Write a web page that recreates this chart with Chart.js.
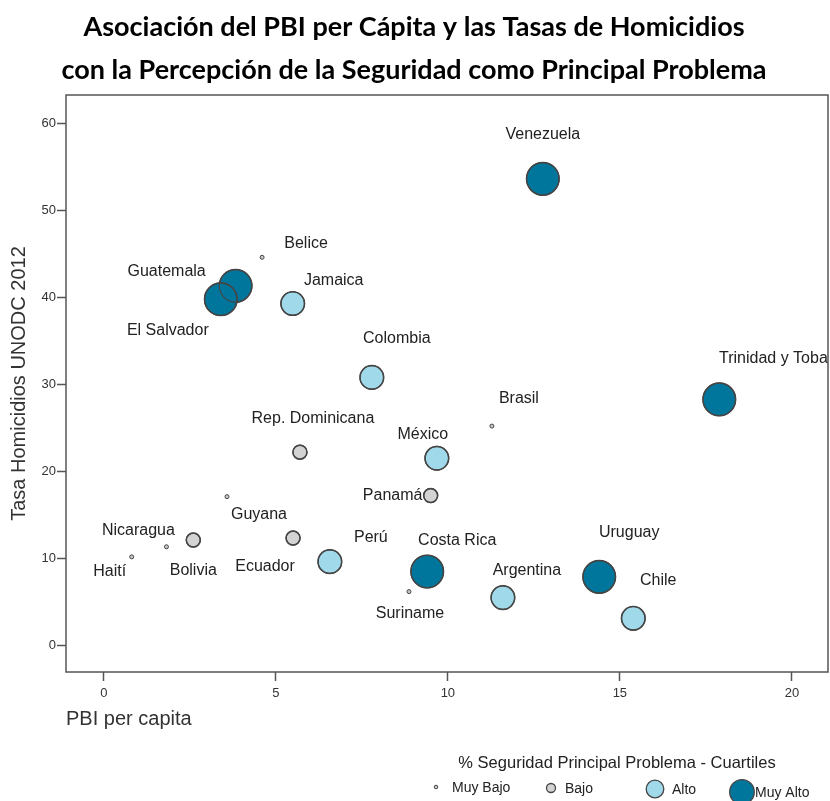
<!DOCTYPE html>
<html>
<head>
<meta charset="utf-8">
<script src="https://cdn.jsdelivr.net/npm/chart.js@4"></script>
<style>
  html, body { margin: 0; padding: 0; background: #fff; }
  canvas { display: block; }
</style>
</head>
<body>
<canvas id="chart" width="830" height="801"></canvas>
<script>
// --- DATA ---
const countries = ["Venezuela", "Belice", "Guatemala", "El Salvador", "Jamaica", "Colombia",
    "Trinidad y Tobago", "Brasil", "Rep. Dominicana", "México", "Panamá", "Guyana",
    "Nicaragua", "Bolivia", "Haití", "Ecuador", "Perú", "Costa Rica", "Suriname",
    "Argentina", "Uruguay", "Chile"];
const pbi = [12.76, 4.60, 3.83, 3.40, 5.49, 7.79, 17.89, 11.28, 5.70, 9.68, 9.50, 3.58,
    1.82, 2.60, 0.81, 5.50, 6.57, 9.40, 8.87, 11.60, 14.40, 15.39];
const homicidios = [53.65, 44.62, 41.34, 39.80, 39.30, 30.80, 28.27, 25.20, 22.20, 21.50, 17.20, 17.08,
    11.31, 12.08, 10.15, 12.31, 9.60, 8.46, 6.15, 5.46, 7.85, 3.08];
// cuartil index: 0 Muy Bajo, 1 Bajo, 2 Alto, 3 Muy Alto
const cuartil = [3, 0, 3, 3, 2, 2, 3, 0, 1, 2, 1, 0, 0, 1, 0, 1, 2, 3, 0, 2, 3, 2];
const cuartiles = ["Muy Bajo", "Bajo", "Alto", "Muy Alto"];
const xTicks = [0, 5, 10, 15, 20];
const yTicks = [0, 10, 20, 30, 40, 50, 60];

// --- STYLE ---
const fills = ["#c8c8c8", "#d3d3d3", "#a0d9ea", "#00769c"];
const radii = [2, 7, 11.8, 16.3];
const legendR = [1.8, 4.5, 8.8, 12.3];
const rim = "#454545";
const sans = '"Liberation Sans", Arial, sans-serif';

// label offsets from the bubble centre (px)
const labelOffset = {
    "Venezuela": [0, -44], "Belice": [44, -14], "Guatemala": [-69, -14],
    "El Salvador": [-53, 31], "Jamaica": [41, -23], "Colombia": [25, -39],
    "Trinidad y Tobago": [63, -41], "Brasil": [27, -27], "Rep. Dominicana": [13, -34],
    "México": [-14, -24], "Panamá": [-38, 0], "Guyana": [32, 18],
    "Nicaragua": [-28, -16], "Bolivia": [0, 31], "Haití": [-22, 15],
    "Ecuador": [-28, 29], "Perú": [41, -24], "Costa Rica": [30, -31],
    "Suriname": [1, 22], "Argentina": [24, -27], "Uruguay": [30, -44], "Chile": [25, -38]
};

const datasets = cuartiles.map((q, k) => ({
    label: q,
    data: countries.map((c, i) => ({ x: pbi[i], y: homicidios[i] })).filter((p, i) => cuartil[i] === k),
    pointRadius: radii[k],
    pointHoverRadius: radii[k],
    backgroundColor: fills[k],
    borderColor: rim,
    borderWidth: k === 0 ? 1 : 1.5
}));

// --- PLUGINS ---
const frame = {
    id: "frame",
    afterDraw(chart) {
        const { ctx, chartArea: a } = chart;
        ctx.save();
        ctx.strokeStyle = "#555";
        ctx.lineWidth = 1.5;
        ctx.strokeRect(a.left, a.top, a.right - a.left, a.bottom - a.top);
        ctx.restore();
    }
};

const countryLabels = {
    id: "countryLabels",
    afterDatasetsDraw(chart) {
        const { ctx, chartArea: a, scales: { x, y } } = chart;
        ctx.save();
        ctx.beginPath();
        ctx.rect(a.left, a.top, a.right - a.left, a.bottom - a.top);
        ctx.clip();

        // redraw rims so overlapping bubbles keep both outlines
        chart.data.datasets.forEach((ds, k) => {
            if (k === 0) return;
            chart.getDatasetMeta(k).data.forEach(el => {
                ctx.beginPath();
                ctx.arc(el.x, el.y, radii[k], 0, Math.PI * 2);
                ctx.strokeStyle = rim;
                ctx.lineWidth = 1.2;
                ctx.stroke();
            });
        });

        ctx.font = "16px " + sans;
        ctx.fillStyle = "#222";
        ctx.textAlign = "center";
        ctx.textBaseline = "middle";
        countries.forEach((c, i) => {
            const off = labelOffset[c] || [0, -20];
            ctx.fillText(c, x.getPixelForValue(pbi[i]) + off[0], y.getPixelForValue(homicidios[i]) + off[1]);
        });
        ctx.restore();
    }
};

const quartileLegend = {
    id: "quartileLegend",
    afterDraw(chart) {
        const ctx = chart.ctx;
        const symX = [436, 551, 655, 742], txtX = [452, 565, 672, 755], rowY = [787, 788, 789, 792];
        ctx.save();
        ctx.fillStyle = "#222";
        ctx.font = "16.5px " + sans;
        ctx.textAlign = "center";
        ctx.textBaseline = "middle";
        ctx.fillText("% Seguridad Principal Problema - Cuartiles", 617, 763);

        ctx.font = "14px " + sans;
        ctx.textAlign = "left";
        cuartiles.forEach((q, i) => {
            ctx.beginPath();
            ctx.arc(symX[i], rowY[i], legendR[i], 0, Math.PI * 2);
            ctx.fillStyle = fills[i];
            ctx.fill();
            ctx.lineWidth = i === 0 ? 1 : 1.3;
            ctx.strokeStyle = rim;
            ctx.stroke();
            ctx.fillStyle = "#222";
            ctx.fillText(q, txtX[i], rowY[i] + 1);
        });
        ctx.restore();
    }
};

// --- CHART ---
new Chart(document.getElementById("chart"), {
    type: "scatter",
    data: { datasets },
    plugins: [frame, countryLabels, quartileLegend],
    options: {
        responsive: false,
        animation: false,
        layout: { autoPadding: false, padding: { left: 0, right: 2, top: 0, bottom: 69 } },
        plugins: {
            legend: { display: false },
            tooltip: { enabled: false },
            title: {
                display: true,
                text: ["Asociación del PBI per Cápita y las Tasas de Homicidios",
                       "con la Percepción de la Seguridad como Principal Problema"],
                color: "#000",
                font: { family: "Lato", size: 27, weight: "bold", lineHeight: "43px" },
                padding: { top: 6, bottom: 3 }
            }
        },
        scales: {
            x: {
                type: "linear",
                min: -1.1,
                max: 21.05,
                afterBuildTicks: s => { s.ticks = xTicks.map(v => ({ value: v })); },
                afterFit: s => { s.height = 60; },
                ticks: { color: "#333", font: { family: sans, size: 13 }, padding: 5, maxRotation: 0, autoSkip: false },
                grid: { drawOnChartArea: false, tickLength: 9, tickColor: "#555", tickWidth: 1.5 },
                border: { display: false },
                title: {
                    display: true, text: "PBI per capita", align: "start", color: "#333",
                    font: { family: sans, size: 20 }, padding: { top: 0, bottom: 1 }
                }
            },
            y: {
                type: "linear",
                min: -3.1,
                max: 63.3,
                afterBuildTicks: s => { s.ticks = yTicks.map(v => ({ value: v })); },
                afterFit: s => { s.width = 66; },
                ticks: { color: "#333", font: { family: sans, size: 13 }, padding: 1, autoSkip: false },
                grid: { drawOnChartArea: false, tickLength: 9, tickColor: "#555", tickWidth: 1.5 },
                border: { display: false },
                title: {
                    display: true, text: "Tasa Homicidios UNODC 2012", color: "#333",
                    font: { family: sans, size: 20 }, padding: { top: 7, bottom: 0 }
                }
            }
        }
    }
});
</script>
</body>
</html>
